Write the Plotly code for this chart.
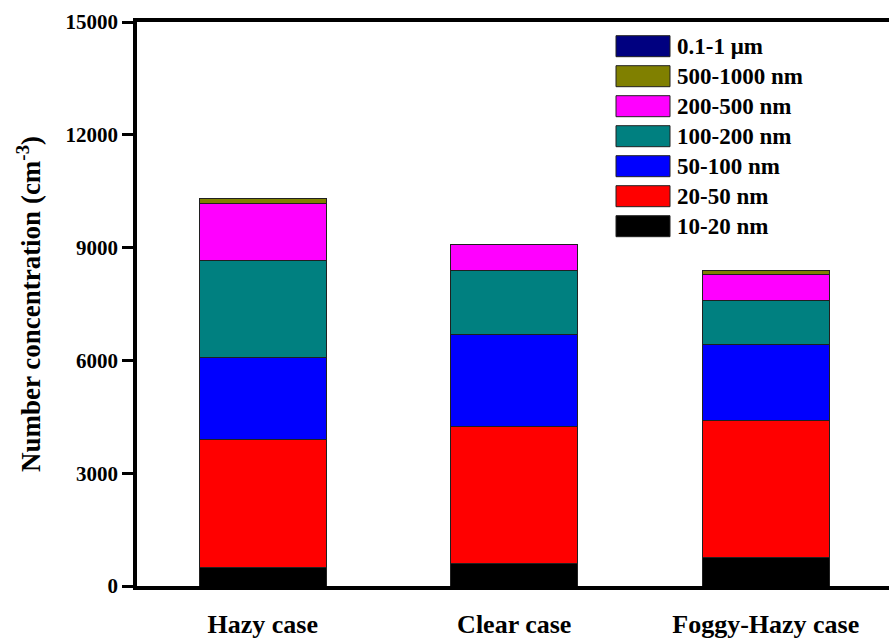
import plotly.graph_objects as go

# Stacked number concentration by particle size bin for each case
cases = ["Hazy case", "Clear case", "Foggy-Hazy case"]

bins = ["10-20 nm", "20-50 nm", "50-100 nm", "100-200 nm",
        "200-500 nm", "500-1000 nm", "0.1-1 μm"]
colors = ["#000000", "#FF0000", "#0000FF", "#008080",
          "#FF00FF", "#808000", "#000080"]

n_10_20 = [500, 600, 750]
n_20_50 = [3400, 3650, 3650]
n_50_100 = [2170, 2440, 2020]
n_100_200 = [2580, 1700, 1170]
n_200_500 = [1530, 680, 690]
n_500_1000 = [130, 10, 100]
n_01_1um = [5, 5, 5]

series = [n_10_20, n_20_50, n_50_100, n_100_200, n_200_500, n_500_1000, n_01_1um]

y_ticks = [0, 3000, 6000, 9000, 12000, 15000]
y_tick_labels = ["0", "3000", "6000", "9000", "12000", "15000"]

FONT = "Liberation Serif"

fig = go.Figure()
for name, vals, col in zip(bins, series, colors):
    fig.add_trace(go.Bar(
        x=cases, y=vals, name=name,
        marker=dict(color=col, line=dict(color="#202020", width=1)),
        width=0.505, showlegend=False,
    ))

W, H = 889, 639
ML, MR, MT, MB = 137, 0, 22, 53
pw, ph = W - ML - MR, H - MT - MB


def px_x(p):
    return (p - ML) / pw


def px_y(p):
    return (H - MB - p) / ph


# Legend drawn as swatch boxes with labels, top entry first
shapes = []
annotations = []
for i, (name, col) in enumerate(zip(bins[::-1], colors[::-1])):
    top = 35.7 + 30 * i
    shapes.append(dict(
        type="rect", xref="paper", yref="paper",
        x0=px_x(616), x1=px_x(670), y0=px_y(top + 21), y1=px_y(top),
        fillcolor=col, line=dict(color="#202020", width=1),
    ))
    annotations.append(dict(
        xref="paper", yref="paper", x=px_x(675), y=px_y(top + 10.5),
        text=name, showarrow=False, xanchor="left", yanchor="middle",
        font=dict(family=FONT, size=23, color="black", weight="bold"),
    ))

fig.update_layout(
    width=W, height=H,
    margin=dict(l=ML, r=MR, t=MT, b=MB),
    plot_bgcolor="white", paper_bgcolor="white",
    barmode="stack",
    font=dict(family=FONT, color="black", weight="bold"),
    shapes=shapes, annotations=annotations,
    xaxis=dict(
        range=[-0.5, 2.49], showline=True, linecolor="black", linewidth=3.5,
        mirror=True, ticks="", showgrid=False, zeroline=False,
        tickfont=dict(family=FONT, size=26, color="black", weight="bold"),
        ticklabelstandoff=12,
    ),
    yaxis=dict(
        range=[0, 15000], tickvals=y_ticks, ticktext=y_tick_labels,
        showline=True, linecolor="black",
        linewidth=3.5, ticks="outside", ticklen=11, tickwidth=3,
        tickcolor="black", showgrid=False, zeroline=False,
        tickfont=dict(family=FONT, size=21, color="black", weight="bold"),
        title=dict(text="Number concentration (cm<sup>-3</sup>)",
                   font=dict(family=FONT, size=27, color="black", weight="bold"),
                   standoff=18),
    ),
)

fig.write_html("out.html")
